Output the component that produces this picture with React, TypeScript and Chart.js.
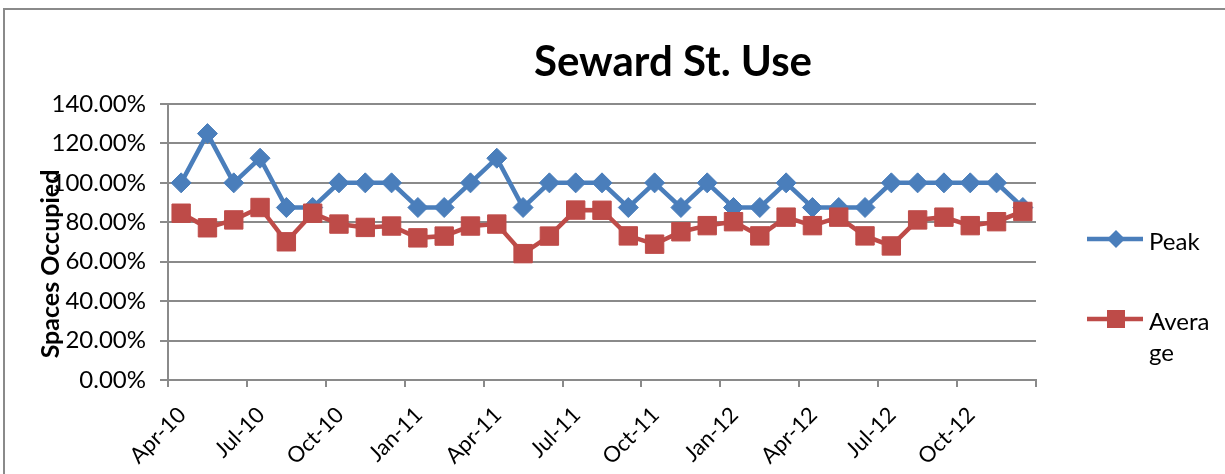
import React, { useEffect, useRef } from 'react';
import { Chart, registerables } from 'chart.js';

Chart.register(...registerables);

const months = [
  'Apr-10', 'May-10', 'Jun-10', 'Jul-10', 'Aug-10', 'Sep-10', 'Oct-10', 'Nov-10', 'Dec-10',
  'Jan-11', 'Feb-11', 'Mar-11', 'Apr-11', 'May-11', 'Jun-11', 'Jul-11', 'Aug-11', 'Sep-11',
  'Oct-11', 'Nov-11', 'Dec-11', 'Jan-12', 'Feb-12', 'Mar-12', 'Apr-12', 'May-12', 'Jun-12',
  'Jul-12', 'Aug-12', 'Sep-12', 'Oct-12', 'Nov-12', 'Dec-12',
];

const peak = [
  100, 125, 100, 112.5, 87.5, 87.5, 100, 100, 100,
  87.5, 87.5, 100, 112.5, 87.5, 100, 100, 100, 87.5,
  100, 87.5, 100, 87.5, 87.5, 100, 87.5, 87.5, 87.5,
  100, 100, 100, 100, 100, 87.5,
];

const average = [
  84.6, 77.2, 81.2, 87.5, 70.1, 84.6, 79.1, 77.4, 78.1,
  72.1, 73.0, 78.1, 79.1, 64.1, 73.0, 86.2, 86.1, 73.1,
  68.9, 75.2, 78.3, 80.3, 73.1, 82.6, 78.3, 82.6, 73.1,
  68.0, 81.2, 82.6, 78.3, 80.3, 85.5,
];

const yMin = 0;
const yMax = 140;
const yStep = 20;
const labelEvery = 3;

const TITLE = 'Seward St. Use';
const Y_TITLE = 'Spaces Occupied';
const SERIES_NAMES = ['Peak', 'Average'];

const BLUE = '#4A7EBB';
const RED = '#BE4B48';
const GRAY = '#8A8A8A';
const FONT = 'Lato, "Open Sans", sans-serif';

const decorPlugin = {
  id: 'decor',
  afterDraw(chart: any) {
    const ctx = chart.ctx as CanvasRenderingContext2D;
    ctx.save();
    // outer chart border (cropped)
    ctx.strokeStyle = GRAY;
    ctx.lineWidth = 2;
    ctx.beginPath();
    ctx.moveTo(4, 474);
    ctx.lineTo(4, 9);
    ctx.lineTo(1225, 9);
    ctx.stroke();

    // title
    ctx.fillStyle = '#000';
    ctx.font = `bold 42px ${FONT}`;
    ctx.textAlign = 'center';
    ctx.textBaseline = 'alphabetic';
    ctx.fillText(TITLE, 673, 76);

    // y title
    ctx.save();
    ctx.translate(51, 264);
    ctx.rotate(-Math.PI / 2);
    ctx.font = `bold 25px ${FONT}`;
    ctx.textAlign = 'center';
    ctx.textBaseline = 'middle';
    ctx.fillText(Y_TITLE, 0, 0);
    ctx.restore();

    // legend
    const lx0 = 1087, lx1 = 1143, mx = 1116;
    // Peak
    ctx.strokeStyle = BLUE;
    ctx.lineWidth = 4.5;
    ctx.beginPath();
    ctx.moveTo(lx0, 239);
    ctx.lineTo(lx1, 239);
    ctx.stroke();
    ctx.fillStyle = BLUE;
    ctx.beginPath();
    ctx.moveTo(mx, 239 - 9);
    ctx.lineTo(mx + 9, 239);
    ctx.lineTo(mx, 239 + 9);
    ctx.lineTo(mx - 9, 239);
    ctx.closePath();
    ctx.fill();
    // Average
    ctx.strokeStyle = RED;
    ctx.beginPath();
    ctx.moveTo(lx0, 319);
    ctx.lineTo(lx1, 319);
    ctx.stroke();
    ctx.fillStyle = RED;
    ctx.fillRect(mx - 9, 319 - 9, 18, 18);

    ctx.fillStyle = '#000';
    ctx.font = `24px ${FONT}`;
    ctx.textAlign = 'left';
    ctx.textBaseline = 'alphabetic';
    ctx.fillText(SERIES_NAMES[0], 1149, 250);
    ctx.fillText('Avera', 1149, 330);
    ctx.fillText('ge', 1149, 361);
    ctx.restore();
  },
};

export default function App() {
  const ref = useRef<HTMLCanvasElement | null>(null);

  useEffect(() => {
    if (!ref.current) return;
    const chart = new Chart(ref.current, {
      type: 'line',
      data: {
        labels: months,
        datasets: [
          {
            label: SERIES_NAMES[0],
            data: peak,
            borderColor: BLUE,
            backgroundColor: BLUE,
            borderWidth: 4.5,
            pointStyle: 'rectRot',
            pointRadius: 10,
            pointBorderWidth: 1,
            pointBorderColor: BLUE,
            pointBackgroundColor: BLUE,
            tension: 0,
            order: 1,
          },
          {
            label: SERIES_NAMES[1],
            data: average,
            borderColor: RED,
            backgroundColor: RED,
            borderWidth: 4.5,
            pointStyle: 'rect',
            pointRadius: 13,
            pointBorderWidth: 1,
            pointBorderColor: RED,
            pointBackgroundColor: RED,
            tension: 0,
            order: 0,
          },
        ],
      },
      options: {
        animation: false,
        responsive: false,
        maintainAspectRatio: false,
        events: [],
        layout: { padding: { top: 104, right: 189, bottom: 0, left: 0 } },
        plugins: {
          legend: { display: false },
          title: { display: false },
          tooltip: { enabled: false },
        },
        scales: {
          x: {
            type: 'category',
            offset: true,
            grid: {
              display: true,
              offset: true,
              drawOnChartArea: false,
              drawTicks: true,
              tickLength: 7,
              lineWidth: 2,
              color: (c: any) =>
                c.index === undefined || c.index % labelEvery === 0 ? GRAY : 'rgba(0,0,0,0)',
            },
            border: { display: true, color: GRAY, width: 2 },
            ticks: {
              autoSkip: false,
              maxRotation: 45,
              minRotation: 45,
              padding: 15,
              labelOffset: 1,
              color: '#000',
              font: { family: FONT, size: 22 },
              callback: (_v: any, i: number) => (i % labelEvery === 0 ? months[i] : ''),
            },
            afterFit: (s: any) => {
              s.height = 94;
            },
          },
          y: {
            min: yMin,
            max: yMax,
            grid: {
              color: GRAY,
              lineWidth: 2,
              drawTicks: true,
              tickLength: 8,
            },
            border: { display: true, color: GRAY, width: 2 },
            ticks: {
              stepSize: yStep,
              padding: 14,
              color: '#000',
              font: { family: FONT, size: 24 },
              callback: (v: any) => Number(v).toFixed(2) + '%',
            },
            afterFit: (s: any) => {
              s.width = 168;
            },
          },
        },
      },
      plugins: [decorPlugin],
    });
    return () => chart.destroy();
  }, []);

  return (
    <div style={{ position: 'fixed', left: 0, top: 0, width: 1225, height: 474, background: '#fff' }}>
      <canvas ref={ref} width={1225} height={474} style={{ display: 'block' }} />
    </div>
  );
}
